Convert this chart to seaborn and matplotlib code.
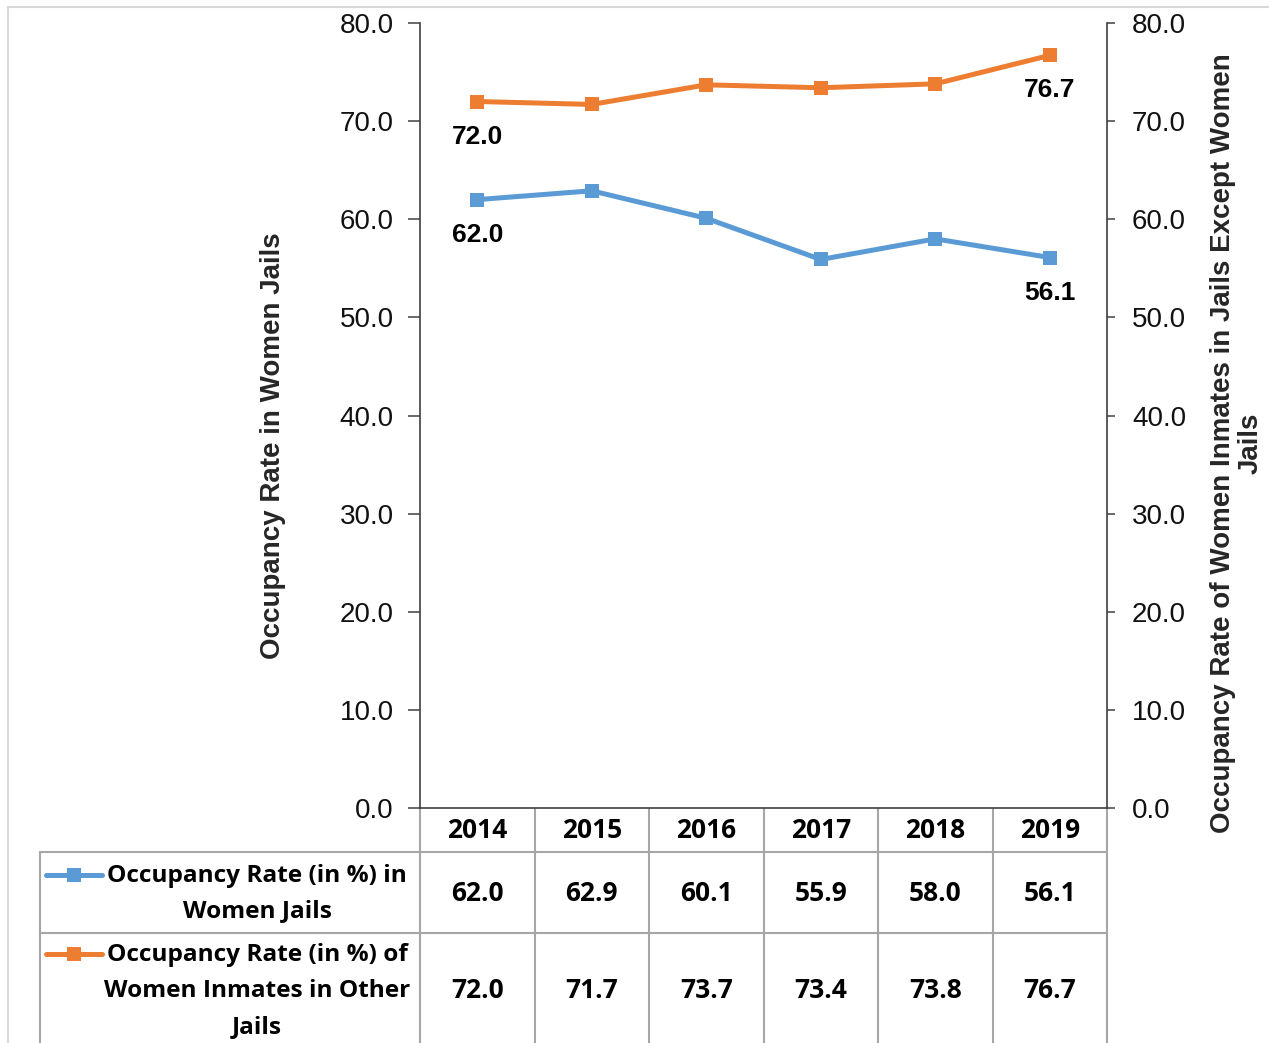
import numpy as np
import pandas as pd
import seaborn as sns
import matplotlib
matplotlib.use("Agg")
import matplotlib.pyplot as plt
from matplotlib.lines import Line2D

years = ["2014", "2015", "2016", "2017", "2018", "2019"]
women_jails = [62.0, 62.9, 60.1, 55.9, 58.0, 56.1]
other_jails = [72.0, 71.7, 73.7, 73.4, 73.8, 76.7]
series_names = [
    ["Occupancy Rate (in %) in", "Women Jails"],
    ["Occupancy Rate (in %) of", "Women Inmates in Other", "Jails"],
]
y_ticks = [0, 10, 20, 30, 40, 50, 60, 70, 80]
left_label = "Occupancy Rate in Women Jails"
right_label = "Occupancy Rate of Women Inmates in Jails Except Women\nJails"

BLUE = "#5B9BD5"
ORANGE = "#ED7D31"
GRID = "#A6A6A6"
AXC = "#404040"

sns.set_style("white")
plt.rcParams["font.family"] = ["Liberation Sans", "DejaVu Sans"]
TABLE_FONT = ["Open Sans", "DejaVu Sans"]

W, H = 1269, 1043
L, R, T, B = 420, 1107, 23, 808

fig = plt.figure(figsize=(W / 100, H / 100), dpi=100)
fig.patch.set_facecolor("white")

df = pd.DataFrame({"i": np.arange(len(years)), "women": women_jails, "other": other_jails})

ax = fig.add_axes([L / W, 1 - B / H, (R - L) / W, (B - T) / H])
ax2 = ax.twinx()

sns.lineplot(data=df, x="i", y="women", ax=ax, color=BLUE, linewidth=3.6,
             marker="s", markersize=9.5, markeredgewidth=0)
sns.lineplot(data=df, x="i", y="other", ax=ax2, color=ORANGE, linewidth=3.6,
             marker="s", markersize=9.5, markeredgewidth=0)

for a in (ax, ax2):
    a.set_xlim(-0.5, len(years) - 0.5)
    a.set_ylim(0, 80)
    a.set_yticks(y_ticks)
    a.set_yticklabels([f"{v:.1f}" for v in y_ticks])
    a.set_xticks([])
    a.set_xlabel("")
    a.set_ylabel("")
    a.spines["top"].set_visible(False)
    a.grid(False)

ax.spines["right"].set_visible(False)
ax2.spines["left"].set_visible(False)
ax2.spines["bottom"].set_visible(False)
for s in ("left", "bottom"):
    ax.spines[s].set_color(AXC)
    ax.spines[s].set_linewidth(1.2)
ax2.spines["right"].set_color(AXC)
ax2.spines["right"].set_linewidth(1.2)

ax.tick_params(axis="y", direction="out", length=9, width=1.1, color=AXC,
               pad=10, labelsize=20, labelcolor="#111111", left=True)
ax2.tick_params(axis="y", direction="out", length=6, width=1.1, color=AXC,
                pad=12, labelsize=20, labelcolor="#111111", right=True)

# data labels for first and last points
for a, vals in ((ax, women_jails), (ax2, other_jails)):
    for i in (0, len(vals) - 1):
        a.annotate(f"{vals[i]:.1f}", (i, vals[i]), xytext=(0, -35),
                   textcoords="offset pixels", ha="center", va="center",
                   fontsize=19, fontweight="bold", color="black")

fig.text(273 / W, 1 - 446 / H, left_label, rotation=90, ha="center", va="center",
         fontsize=20, fontweight="bold")
fig.text(1237 / W, 1 - 443 / H, right_label, rotation=90, ha="center", va="center",
         fontsize=20, fontweight="bold", multialignment="center", linespacing=1.05)

# data table
tab = fig.add_axes([0, 0, 1, 1], zorder=-1)
tab.set_xlim(0, W)
tab.set_ylim(H, 0)
tab.axis("off")

n = len(years)
cw = (R - L) / n
col_edges = [L + k * cw for k in range(n + 1)]
centers = [L + (k + 0.5) * cw for k in range(n)]
LEG_L = 40
hdr_bot, row1_bot, row2_bot = 852, 933, 1047

lk = dict(color=GRID, linewidth=1.5)
for x in col_edges:
    tab.plot([x, x], [B, H], **lk)
tab.plot([LEG_L, LEG_L], [hdr_bot, H], **lk)
tab.plot([LEG_L, R], [hdr_bot, hdr_bot], **lk)
tab.plot([LEG_L, R], [row1_bot, row1_bot], **lk)

# outer chart frame
tab.plot([8, W], [7, 7], color="#D9D9D9", linewidth=1.5)
tab.plot([8, 8], [7, H], color="#D9D9D9", linewidth=1.5)

tfont = dict(family=TABLE_FONT, fontweight="bold", fontsize=19, color="black",
             ha="center", va="center")
lfont = dict(tfont, fontsize=17.6)
for c, yr in zip(centers, years):
    tab.text(c, (B + hdr_bot) / 2 + 1, yr, **tfont)

rows = [(hdr_bot, row1_bot, women_jails, BLUE), (row1_bot, row2_bot, other_jails, ORANGE)]
line_h = 36
for (top, bot, vals, col), lines in zip(rows, series_names):
    mid = (top + bot) / 2
    for c, v in zip(centers, vals):
        tab.text(c, mid + 1, f"{v:.1f}", **tfont)
    y0 = mid - (len(lines) - 1) * line_h / 2
    for k, ln in enumerate(lines):
        tab.text(257, y0 + k * line_h + 1, ln, **lfont)
    tab.add_line(Line2D([46, 102], [y0, y0], color=col, linewidth=3.6,
                        solid_capstyle="round"))
    tab.add_line(Line2D([74], [y0], color=col, marker="s", markersize=9.5,
                        markeredgewidth=0))

fig.savefig("out.png", dpi=100, facecolor="white")
